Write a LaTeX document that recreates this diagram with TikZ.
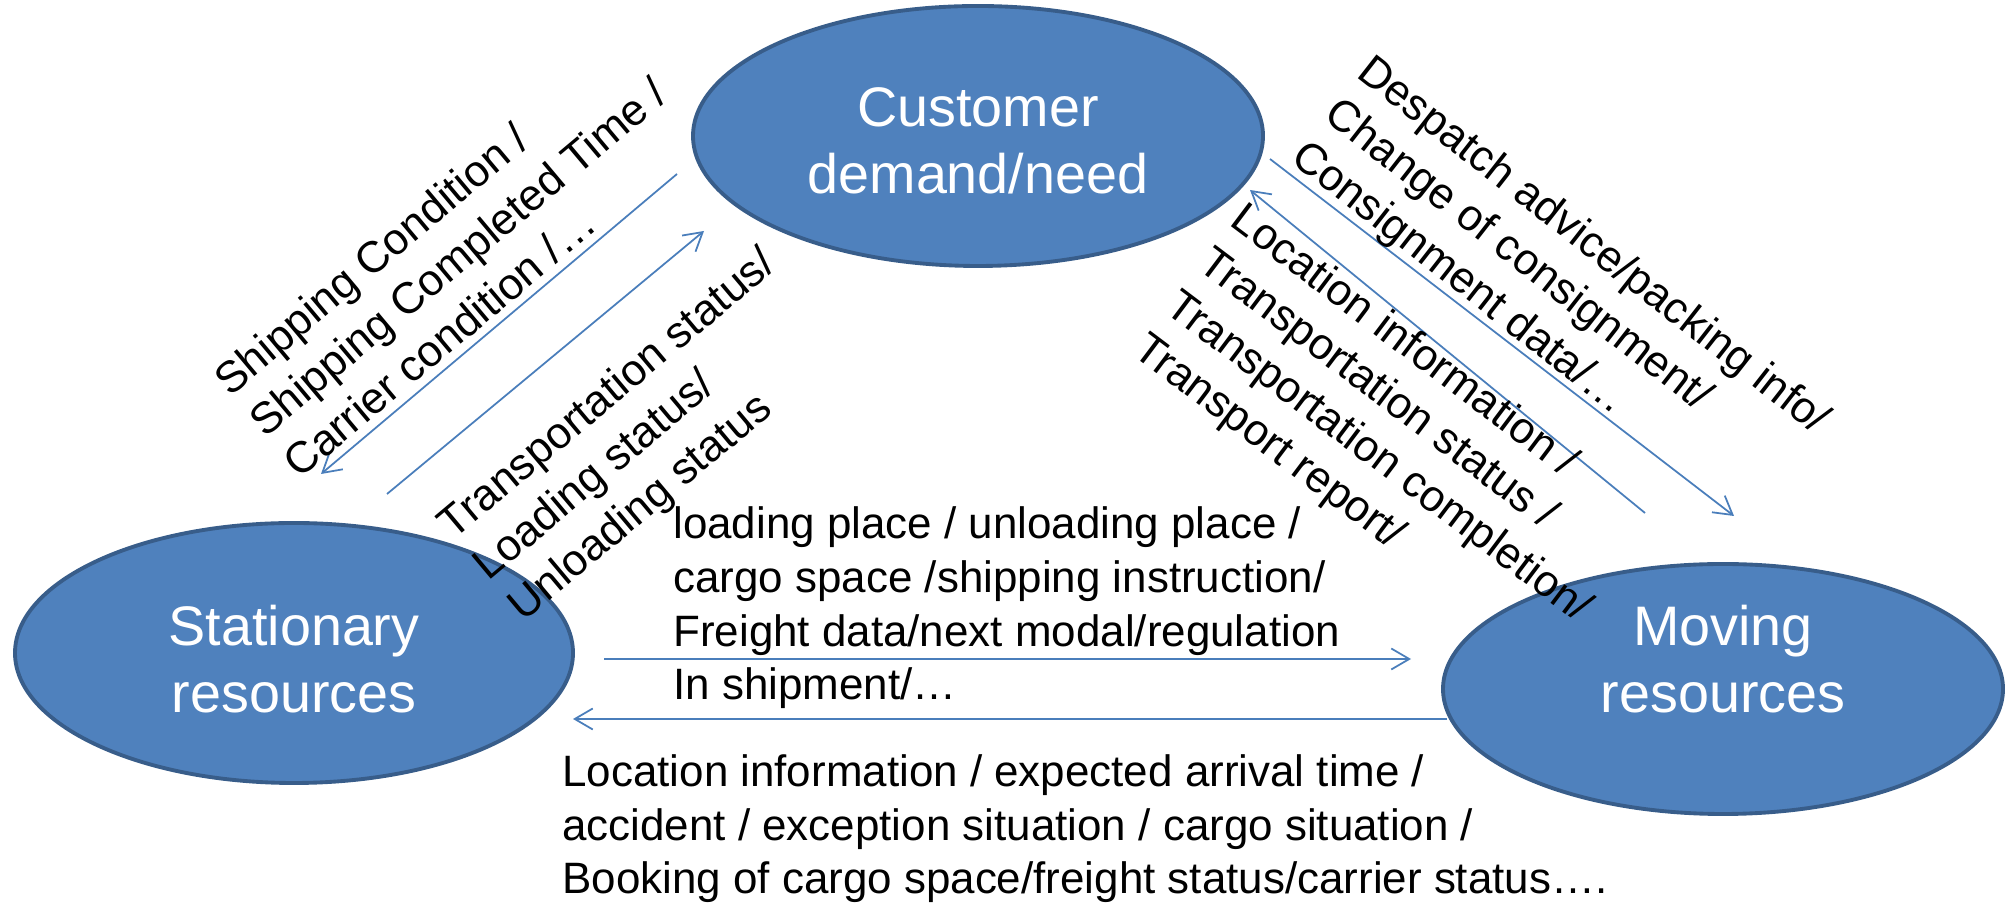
\documentclass[tikz,border=0pt]{standalone}
\usepackage{fontspec}
\setmainfont{Liberation Sans}
\usetikzlibrary{shapes,arrows.meta,positioning}
\definecolor{resblue}{HTML}{4F81BD}
\definecolor{resline}{HTML}{385D8A}
\definecolor{flowblue}{HTML}{4A7EBB}

\begin{document}
\begin{tikzpicture}[
    res/.style={ellipse, draw=resline, line width=2.2pt, fill=resblue, inner sep=0pt},
    restext/.style={text=white, align=center, inner sep=0pt, font=\fontsize{31.7}{37.8}\selectfont},
    info/.style={align=left, inner sep=0pt, font=\fontsize{25}{30.7}\selectfont},
    flow/.style={draw=flowblue, line width=1pt, -{Straight Barb[length=0.36cm,width=0.42cm]}}
]
    \useasboundingbox (0,0) rectangle (40.22,18.08);

    % Resources
    \node[res, minimum width=11.4cm, minimum height=5.2cm, label={[restext, yshift=-0.1cm]center:Customer\\demand/need}] (cust) at (19.56,15.36) {};
    \node[res, minimum width=11.16cm, minimum height=5.2cm, label={[restext, yshift=-0.12cm]center:Stationary\\resources}] (stat) at (5.88,5.02) {};
    \node[res, minimum width=11.2cm, minimum height=5.0cm, label={[restext, yshift=0.6cm]center:Moving\\resources}] (mov) at (34.46,4.30) {};

    % Arrow ends
    \coordinate (custsw) at (13.54,14.60);
    \coordinate (statne) at (6.42,8.60);
    \coordinate (statup) at (7.74,8.20);
    \coordinate (custsl) at (14.08,13.46);
    \coordinate (custse) at (25.40,14.90);
    \coordinate (movnw) at (34.68,7.76);
    \coordinate (movup) at (32.90,7.82);
    \coordinate (custsr) at (25.00,14.28);
    \coordinate (statea) at (12.08,4.90);
    \coordinate (movwa) at (28.22,4.90);
    \coordinate (movwb) at (28.94,3.70);
    \coordinate (stateb) at (11.46,3.70);

    % Connections
    \draw[flow] (custsw) -- (statne);
    \draw[flow] (statup) -- (custsl);
    \draw[flow] (custse) -- (movnw);
    \draw[flow] (movup) -- (custsr);
    \draw[flow] (statea) -- (movwa);
    \draw[flow] (movwb) -- (stateb);

    % Messages
    \node[info, anchor=base west, rotate=40] (shipmsg) at (5.99,8.48) {Shipping Condition /\\Shipping Completed Time /\\Carrier condition /\dots};
    \node[info, anchor=base west, rotate=40] (statmsg) at (10.46,5.62) {Transportation status/\\Loading status/\\Unloading status};
    \node[info, anchor=base west, rotate=-38] (despmsg) at (25.78,14.86) {Despatch advice/packing info/\\Change of consignment/\\Consignment data/\dots};
    \node[info, anchor=base west, rotate=-37] (locmsg) at (22.62,11.00) {Location information /\\Transportation status /\\Transportation completion/\\Transport report/};
    \node[info, anchor=base west] (loadmsg) at (13.46,4.08) {loading place / unloading place /\\cargo space /shipping instruction/\\Freight data/next modal/regulation\\In shipment/\dots};
    \node[info, anchor=base west] (bookmsg) at (11.24,0.20) {Location information / expected arrival time /\\accident / exception situation / cargo situation /\\Booking of cargo space/freight status/carrier status\dots.};
\end{tikzpicture}
\end{document}
